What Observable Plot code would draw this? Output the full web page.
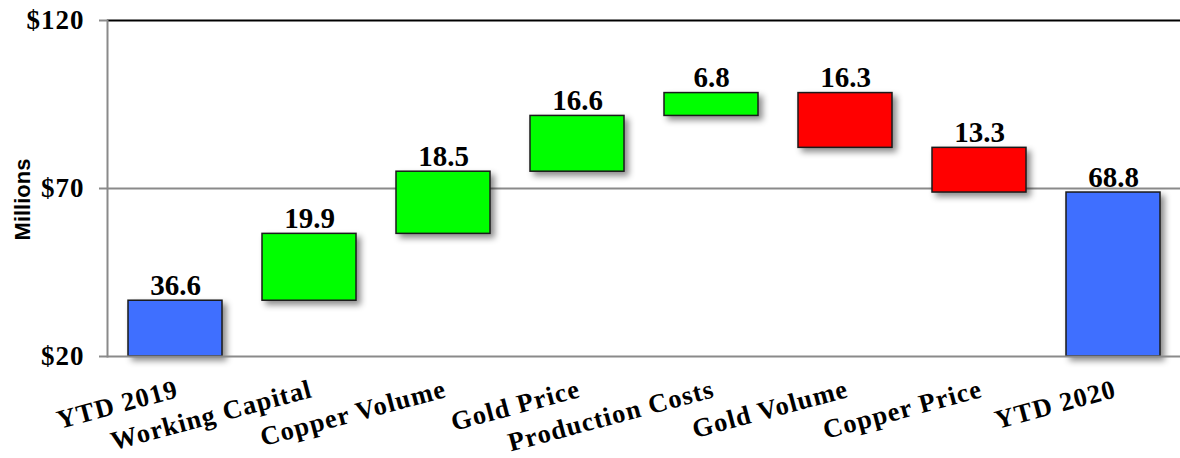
<!DOCTYPE html>
<html>
<head>
<meta charset="utf-8">
<script src="https://cdn.jsdelivr.net/npm/d3@7"></script>
<script src="https://cdn.jsdelivr.net/npm/@observablehq/plot@0.6"></script>
<style>
  html, body { margin: 0; padding: 0; background: #fff; }
  #chart svg g[aria-label="bar"] { filter: drop-shadow(4px 4px 3px rgba(0,0,0,0.45)); }
  #chart svg g[aria-label="y-axis tick label"] text { letter-spacing: 1px; }
  #chart svg g[aria-label="x-axis tick label"] text { letter-spacing: 1.1px; }
</style>
</head>
<body>
<div id="chart"></div>
<script>
const categories = ["YTD 2019", "Working Capital", "Copper Volume", "Gold Price", "Production Costs", "Gold Volume", "Copper Price", "YTD 2020"];
const values = [36.6, 19.9, 18.5, 16.6, 6.8, -16.3, -13.3, 68.8];
const kinds = ["total", "up", "up", "up", "up", "down", "down", "total"];
const labels = ["36.6", "19.9", "18.5", "16.6", "6.8", "16.3", "13.3", "68.8"];
const yTicks = [20, 70, 120];
const kindColors = {total: "#3F6FFF", up: "#00FF00", down: "#FF0000"};

const baseValue = 20;
let running = 0;
const rows = categories.map((c, i) => {
  let y1, y2;
  if (kinds[i] === "total") { y1 = baseValue; y2 = values[i]; running = values[i]; }
  else { y1 = running; y2 = running + values[i]; running = y2; }
  return {category: c, y1, y2, top: Math.max(y1, y2), kind: kinds[i], label: labels[i]};
});

const serif = "'Liberation Serif', 'Times New Roman', serif";

const chart = Plot.plot({
  width: 1180,
  height: 458,
  marginLeft: 107,
  marginRight: 0,
  marginTop: 20,
  marginBottom: 102,
  x: {type: "band", domain: categories, paddingInner: 0.3, paddingOuter: 0.15},
  y: {domain: [20, 120]},
  style: {background: "#fff", overflow: "visible"},
  marks: [
    Plot.ruleY([70], {stroke: "#8a8a8a", strokeWidth: 2}),
    Plot.ruleY([120], {stroke: "#000", strokeWidth: 2}),
    Plot.barY(rows, {
      x: "category", y1: "y1", y2: "y2",
      fill: d => kindColors[d.kind],
      stroke: "#1a1a1a", strokeWidth: 1.5
    }),
    Plot.ruleY([20], {stroke: "#8a8a8a", strokeWidth: 2}),
    Plot.axisY({
      ticks: yTicks, tickFormat: d => "$" + d, tickSize: 8, tickPadding: 15,
      stroke: "#8a8a8a", strokeWidth: 2,
      fontSize: 27, fontWeight: "bold", fontFamily: serif, fill: "#000",
      label: null
    }),
    Plot.frame({anchor: "left", stroke: "#8a8a8a", strokeWidth: 2}),
    Plot.axisX({
      tickSize: 0, tickPadding: 32, tickRotate: -15, label: null, dx: 2,
      fontSize: 26.5, fontWeight: "bold", fontFamily: serif, fill: "#000"
    }),
    Plot.text(rows, {
      x: "category", y: "top", text: "label", lineAnchor: "bottom", dy: -6,
      fontSize: 29, fontWeight: "bold", fontFamily: serif, fill: "#000"
    }),
    Plot.text(["Millions"], {
      frameAnchor: "left", rotate: -90, dx: -85, dy: 11, textAnchor: "middle",
      fontSize: 22, fontWeight: "bold", fontFamily: "'Liberation Sans', Arial, sans-serif", fill: "#000"
    })
  ]
});
document.getElementById("chart").appendChild(chart);
</script>
</body>
</html>
